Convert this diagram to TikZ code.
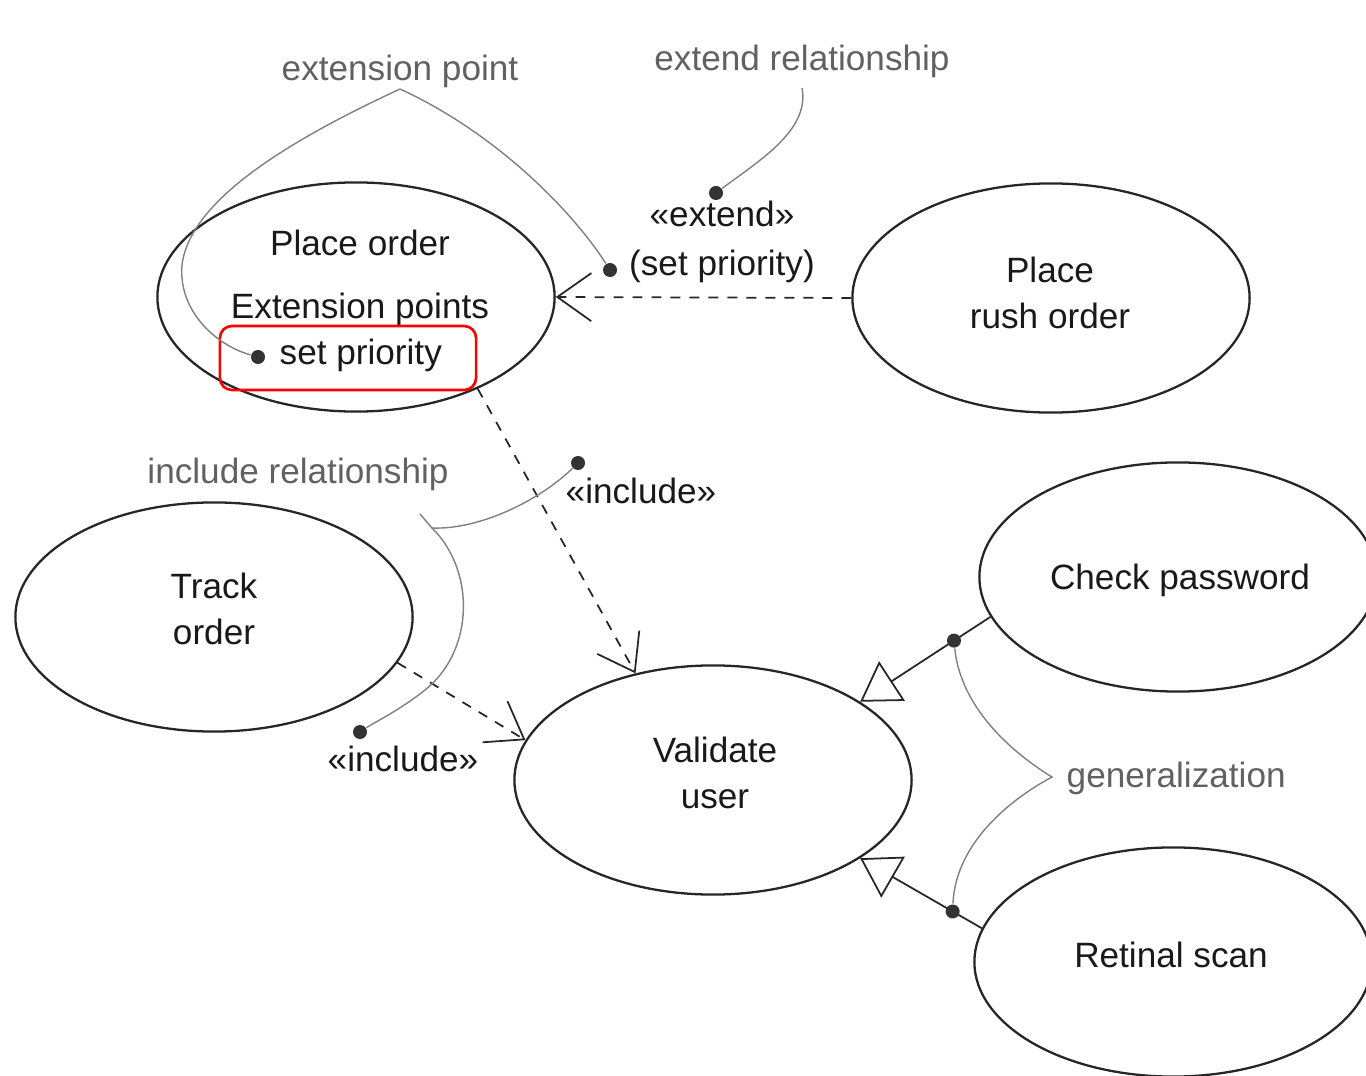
\documentclass[tikz,border=0pt]{standalone}
\usepackage{fontspec}
\setmainfont{Liberation Sans}
\usetikzlibrary{shapes.geometric,arrows.meta}
\begin{document}
\begin{tikzpicture}[x=0.01cm,y=-0.01cm,
  font=\fontsize{10}{13}\selectfont,
  usecase/.style={draw=black!85, line width=0.65pt, ellipse, inner sep=0pt,
    minimum width=3.97cm, minimum height=2.29cm},
  txt/.style={inner sep=0pt, anchor=base, text=black!90},
  note/.style={inner sep=0pt, anchor=base, text=black!62},
  noteline/.style={draw=black!50, line width=0.4pt},
  dep/.style={draw=black!85, line width=0.5pt, dash pattern=on 2.8pt off 2.6pt,
    -{Straight Barb[length=0.34cm, width=0.48cm, line width=0.5pt]}},
  gen/.style={draw=black!85, line width=0.5pt,
    -{Triangle[open, length=0.38cm, width=0.47cm, fill=white, line width=0.5pt]}},
  pin/.style={circle, fill=black!80, inner sep=0pt, minimum size=0.14cm},
]
\useasboundingbox (0,0) rectangle (1366,1076);

% use cases
\node[usecase] (po) at (356,297) {};
\node[usecase] (rush) at (1051,298) {};
\node[usecase] (to) at (214,617) {};
\node[usecase] (vu) at (713,780) {};
\node[usecase] (cp) at (1178,577) {};
\node[usecase] (rs) at (1173,962) {};

% use case names
\node[txt] (poname) at (360,256) {Place order};
\node[txt] (poext) at (360,318) {Extension points};
\node[txt, anchor=base west] (posp) at (279,365) {set priority};
\node[pin] (spdot) at (258,357) {};
\node[draw=red, line width=0.75pt, rounded corners=0.12cm, inner sep=0pt,
  minimum width=2.56cm, minimum height=0.64cm] (hl) at (348,358) {};

\node[txt] (rushA) at (1050,283) {Place};
\node[txt] (rushB) at (1050,328) {rush order};
\node[txt] (toA) at (214,598) {Track};
\node[txt] (toB) at (214,644) {order};
\node[txt] (vuA) at (715,762) {Validate};
\node[txt] (vuB) at (715,808) {user};
\node[txt] (cpname) at (1180,589) {Check password};
\node[txt] (rsname) at (1171,967) {Retinal scan};

% extend relationship
\draw[dep] (rush.west) -- (po.east);
\node[txt] (extlab) at (722,227) {«extend»};
\node[txt] (extpt) at (722,276) {(set priority)};
\node[pin] (exdot) at (716,193) {};
\node[pin] (epdot) at (610,270) {};

% include relationships
\draw[dep] (po.-37) -- (vu.126);
\draw[dep] (to.-14) -- (vu.168);
\node[txt] (inclA) at (641,504) {«include»};
\node[pin] (indot) at (578,463) {};
\node[txt] (inclB) at (403,771) {«include»};
\node[pin] (tdot) at (360,732) {};

% generalizations
\draw[gen] (cp.192) -- node[pin, pos=0.28] (g1) {} (vu.28);
\draw[gen] (rs.170) -- node[pin, pos=0.24] (g2) {} (vu.-28);

% annotations
\node[note] (epnote) at (400,81) {extension point};
\node[note] (exnote) at (802,71) {extend relationship};
\node[note] (innote) at (298,483) {include relationship};
\node[note, anchor=base west] (gnote) at (1066,787) {generalization};

\coordinate (epapex) at (400,89);
\coordinate (exapex) at (802,88);
\coordinate (inapex) at (420,514);
\coordinate (injoin) at (432,528);
\coordinate (gapex) at (1052,777);

\draw[noteline] (epapex) .. controls (290,140) and (190,200) .. (182,265)
  .. controls (178,310) and (215,345) .. (spdot);
\draw[noteline] (epapex) .. controls (500,135) and (575,215) .. (epdot);
\draw[noteline] (exapex) .. controls (810,130) and (760,160) .. (exdot);
\draw[noteline] (inapex) -- (injoin) .. controls (480,530) and (540,500) .. (indot);
\draw[noteline] (injoin) .. controls (475,570) and (475,650) .. (425,690)
  .. controls (400,710) and (375,722) .. (tdot);
\draw[noteline] (g1) .. controls (960,700) and (1000,745) .. (gapex)
  .. controls (1000,805) and (955,850) .. (g2);
\end{tikzpicture}
\end{document}
